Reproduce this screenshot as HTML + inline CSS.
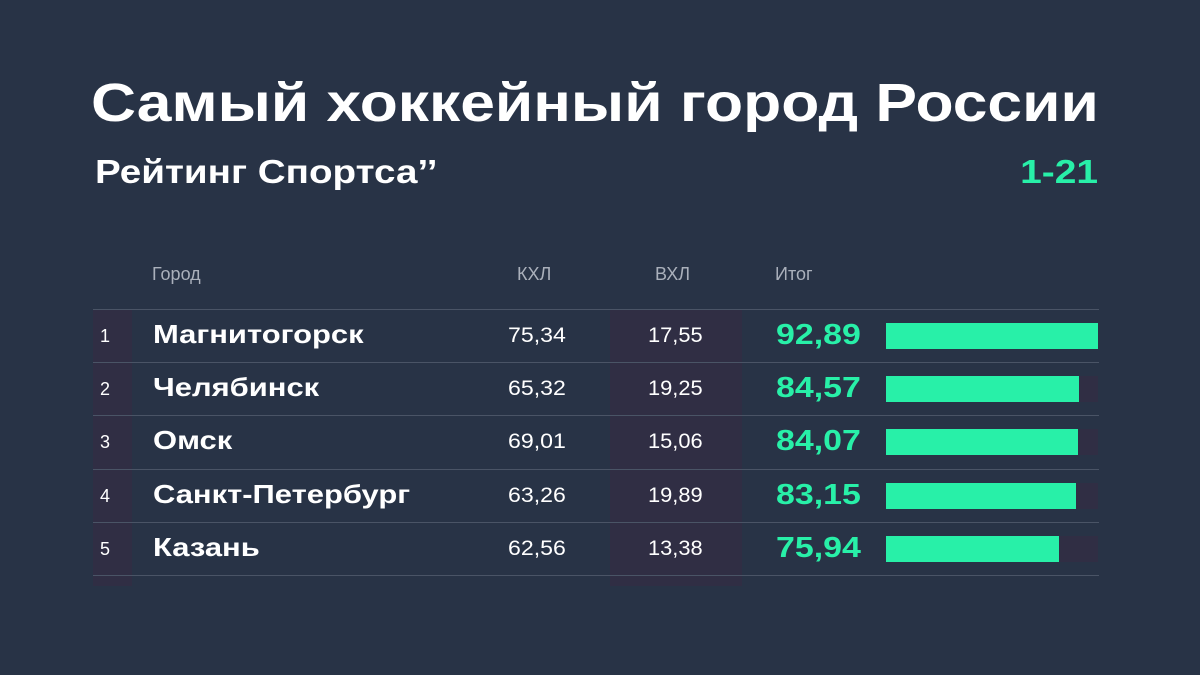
<!DOCTYPE html>
<html><head><meta charset="utf-8"><style>
body{margin:0;width:1200px;height:675px;background:#283346;font-family:"Liberation Sans",sans-serif;overflow:hidden;position:relative;color:#fff}
.a{position:absolute;white-space:nowrap;transform-origin:0 0}
</style></head><body>
<div class="a" style="left:91px;top:72px;font-size:54px;font-weight:bold;transform:scaleX(1.155)">Самый хоккейный город России</div>
<div class="a" style="left:95px;top:153px;font-size:33px;font-weight:bold;transform:scaleX(1.17)">Рейтинг Спортса’’</div>
<div class="a" style="right:102px;top:153px;font-size:33px;font-weight:bold;color:#28f0a8;transform-origin:100% 0;transform:scaleX(1.18)">1-21</div>
<div class="a" style="left:93px;top:309px;width:39px;height:277px;background:#302e44"></div>
<div class="a" style="left:610px;top:309px;width:132px;height:277px;background:#302e44"></div>
<div class="a" style="left:152px;top:264px;font-size:18px;color:#aab0bb">Город</div>
<div class="a" style="left:517px;top:264px;font-size:18px;color:#aab0bb">КХЛ</div>
<div class="a" style="left:655px;top:264px;font-size:18px;color:#aab0bb">ВХЛ</div>
<div class="a" style="left:775px;top:264px;font-size:18px;color:#aab0bb">Итог</div>
<div id="rows"></div>
<script>
const cities=["Магнитогорск","Челябинск","Омск","Санкт-Петербург","Казань"];
const khl=["75,34","65,32","69,01","63,26","62,56"];
const vhl=["17,55","19,25","15,06","19,89","13,38"];
const totals=[92.89,84.57,84.07,83.15,75.94];
const root=document.getElementById('rows');
const maxT=Math.max(...totals);
function mk(style,text){const d=document.createElement('div');d.className='a';d.style.cssText=style;if(text!==undefined)d.textContent=text;root.appendChild(d);return d;}
const top0=309,rh=53.2;
let l=mk(`left:93px;top:${top0}px;width:1006px;height:1px;background:#4a5466`);


cities.forEach((c,i)=>{
  const y=top0+i*rh;
  let e=mk(`left:100px;top:${y+17}px;font-size:18px`,String(i+1));
  
  
  e=mk(`left:153px;top:${y+10}px;font-size:26px;font-weight:bold;transform:scaleX(1.19)`,c);
  
  
  e=mk(`left:508px;top:${y+15}px;font-size:21px;transform:scaleX(1.1)`,khl[i]);
  
  
  e=mk(`left:648px;top:${y+15}px;font-size:21px;transform:scaleX(1.04)`,vhl[i]);
  
  
  e=mk(`left:776px;top:${y+10}px;font-size:29px;font-weight:bold;color:#28f0a8;transform:scaleX(1.17)`,totals[i].toFixed(2).replace('.',','));
  
  
  e=mk(`left:886px;top:${y+14}px;width:212px;height:26px;background:#302e44`);
  
  
  e=mk(`left:886px;top:${y+14}px;width:${212*totals[i]/maxT}px;height:26px;background:#28f0a8`);
  
  
  e=mk(`left:93px;top:${Math.round(y+rh)}px;width:1006px;height:1px;background:#4a5466`);
  
  
});
</script>
</body></html>
